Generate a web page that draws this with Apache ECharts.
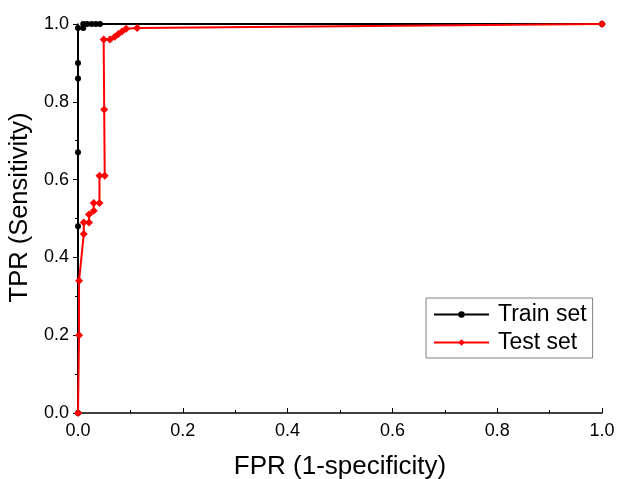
<!DOCTYPE html>
<html>
<head>
<meta charset="utf-8">
<script src="https://cdn.jsdelivr.net/npm/echarts@6/dist/echarts.min.js"></script>
<style>html,body{margin:0;padding:0;background:#fff}#c{width:617px;height:479px}</style>
</head>
<body>
<div id="c"></div>
<script>
const trainFPR = [0, 0, 0, 0, 0, 0, 0.01, 0.01, 0.017, 0.026, 0.034, 0.042, 1.0];
const trainTPR = [0, 0.48, 0.67, 0.86, 0.90, 0.99, 0.99, 1.0, 1.0, 1.0, 1.0, 1.0, 1.0];
const testFPR = [0, 0.002, 0.002, 0.011, 0.011, 0.021, 0.021, 0.030, 0.030, 0.041, 0.041, 0.051, 0.050, 0.049, 0.061, 0.070, 0.077, 0.084, 0.092, 0.113, 1.0];
const testTPR = [0, 0.20, 0.34, 0.46, 0.49, 0.49, 0.51, 0.52, 0.54, 0.54, 0.61, 0.61, 0.78, 0.96, 0.96, 0.967, 0.974, 0.981, 0.988, 0.99, 1.0];
const xTicks = [0, 0.2, 0.4, 0.6, 0.8, 1.0];
const seriesNames = ['Train set', 'Test set'];

const font = 'Liberation Sans, Arial, sans-serif';
const chart = echarts.init(document.getElementById('c'), null, {renderer: 'canvas'});
const zip = (a, b) => a.map((v, i) => [v, b[i]]);
chart.setOption({
  animation: false,
  backgroundColor: '#fff',
  grid: {left: 78, right: 15, top: 24, bottom: 66, containLabel: false, outerBoundsMode: 'none'},
  legend: {
    orient: 'vertical', left: 426, top: 298,
    padding: [5, 6, 4, 7],
    itemGap: 5,
    itemWidth: 55, itemHeight: 8,
    borderColor: '#808080', borderWidth: 1,
    textStyle: {fontFamily: font, fontSize: 23, color: '#000', padding: [0, 0, 0, 4]},
    data: seriesNames
  },
  xAxis: {
    type: 'value', min: 0, max: 1, interval: 0.2,
    name: 'FPR (1-specificity)', nameLocation: 'middle', nameGap: 41,
    nameTextStyle: {fontFamily: font, fontSize: 26, color: '#000'},
    axisLine: {onZero: false, lineStyle: {color: '#000', width: 1.5}},
    axisTick: {inside: true, length: 5, lineStyle: {color: '#000'}},
    minorTick: {show: true, splitNumber: 2, length: 3, lineStyle: {color: '#000'}},
    splitLine: {show: false},
    axisLabel: {fontFamily: font, fontSize: 18, color: '#000', margin: 9,
      formatter: v => xTicks.includes(+v.toFixed(1)) ? v.toFixed(1) : ''}
  },
  yAxis: {
    type: 'value', min: 0, max: 1, interval: 0.2,
    name: 'TPR (Sensitivity)', nameLocation: 'middle', nameGap: 42, nameRotate: 90,
    nameTextStyle: {fontFamily: font, fontSize: 25.5, color: '#000', padding: [0, 0, 0, 22]},
    axisLine: {show: true, onZero: false, lineStyle: {color: '#000', width: 1.5}},
    axisTick: {show: true, inside: false, length: 5, lineStyle: {color: '#000'}},
    minorTick: {show: true, splitNumber: 2, length: 3, lineStyle: {color: '#000'}},
    splitLine: {show: false},
    axisLabel: {fontFamily: font, fontSize: 18, color: '#000', margin: 9,
      formatter: v => v.toFixed(1)}
  },
  series: [
    {
      name: seriesNames[0], type: 'line', data: zip(trainFPR, trainTPR),
      symbol: 'circle', symbolSize: 6, showAllSymbol: true,
      lineStyle: {color: '#000', width: 2}, itemStyle: {color: '#000'}, z: 2
    },
    {
      name: seriesNames[1], type: 'line', data: zip(testFPR, testTPR),
      symbol: 'diamond', symbolSize: 8, showAllSymbol: true,
      lineStyle: {color: '#ff0000', width: 2}, itemStyle: {color: '#ff0000'}, z: 3
    }
  ]
});
</script>
</body>
</html>
